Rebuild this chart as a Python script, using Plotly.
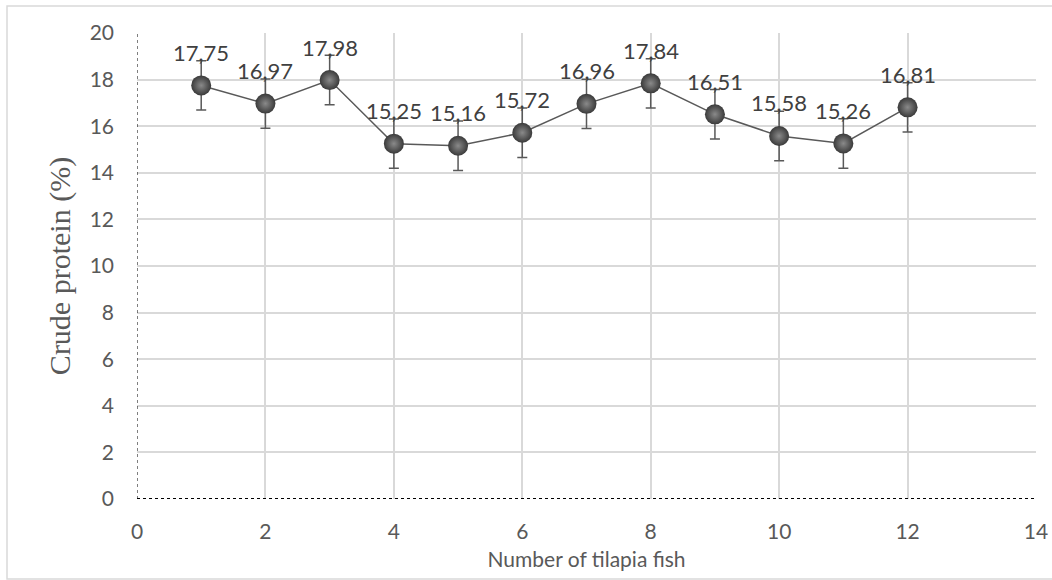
import plotly.graph_objects as go

fish = [1, 2, 3, 4, 5, 6, 7, 8, 9, 10, 11, 12]
protein = [17.75, 16.97, 17.98, 15.25, 15.16, 15.72, 16.96, 17.84, 16.51, 15.58, 15.26, 16.81]
err = [1.06, 1.06, 1.06, 1.06, 1.06, 1.06, 1.06, 1.06, 1.06, 1.06, 1.06, 1.06]
x_ticks = [0, 2, 4, 6, 8, 10, 12, 14]
y_ticks = [0, 2, 4, 6, 8, 10, 12, 14, 16, 18, 20]

GRAY = "#595959"
FONT = "Lato"

fig = go.Figure()
fig.add_trace(go.Scatter(
    x=fish, y=protein, mode="lines+markers",
    line=dict(color=GRAY, width=1.5),
    marker=dict(size=20, color="#3a3a3a",
                gradient=dict(type="radial", color="#8a8a8a"),
                line=dict(width=0)),
    error_y=dict(type="data", array=err, visible=True,
                 color=GRAY, thickness=1.5, width=5),
    showlegend=False, hoverinfo="skip",
))

for xv, yv in zip(fish, protein):
    fig.add_annotation(x=xv, y=yv, text=f"{yv:.2f}".replace(".", ","),
                       showarrow=False, yshift=33,
                       font=dict(family=FONT, size=22, color="#404040"))

# dotted axis lines
fig.add_shape(type="line", x0=0, x1=14, y0=0, y1=0, xref="x", yref="y",
              line=dict(color="#000000", width=2, dash="dot"))
fig.add_shape(type="line", x0=0, x1=0, y0=0, y1=20, xref="x", yref="y",
              line=dict(color="#000000", width=1, dash="dot"))
# chart border
fig.add_shape(type="rect", xref="paper", yref="paper",
              x0=-0.1446, x1=1.03, y0=-0.1717, y1=1.058,
              line=dict(color="#d9d9d9", width=1.5), layer="below")

fig.update_layout(
    width=1052, height=580,
    margin=dict(l=137, r=16, t=33, b=81),
    paper_bgcolor="white", plot_bgcolor="white",
    font=dict(family=FONT, color=GRAY),
    xaxis=dict(range=[0, 14], tickvals=x_ticks, showgrid=True, automargin=False,
               gridcolor="#d9d9d9", gridwidth=1.5, zeroline=False,
               showline=False, ticks="", ticklabelstandoff=18,
               tickfont=dict(family=FONT, size=21, color=GRAY),
               title=dict(text="Number of tilapia fish", standoff=10,
                          font=dict(family=FONT, size=21, color=GRAY))),
    yaxis=dict(range=[0, 20], tickvals=y_ticks, showgrid=True, automargin=False,
               gridcolor="#d9d9d9", gridwidth=1.5, zeroline=False,
               showline=False, ticks="", ticklabelstandoff=22,
               tickfont=dict(family=FONT, size=21, color=GRAY),
               title=dict(text="Crude protein (%)", standoff=10,
                          font=dict(family="Liberation Serif", size=30, color=GRAY))),
)

fig.write_html("out.html", config={"displayModeBar": False},
               post_script="document.body.style.margin='0px';")
